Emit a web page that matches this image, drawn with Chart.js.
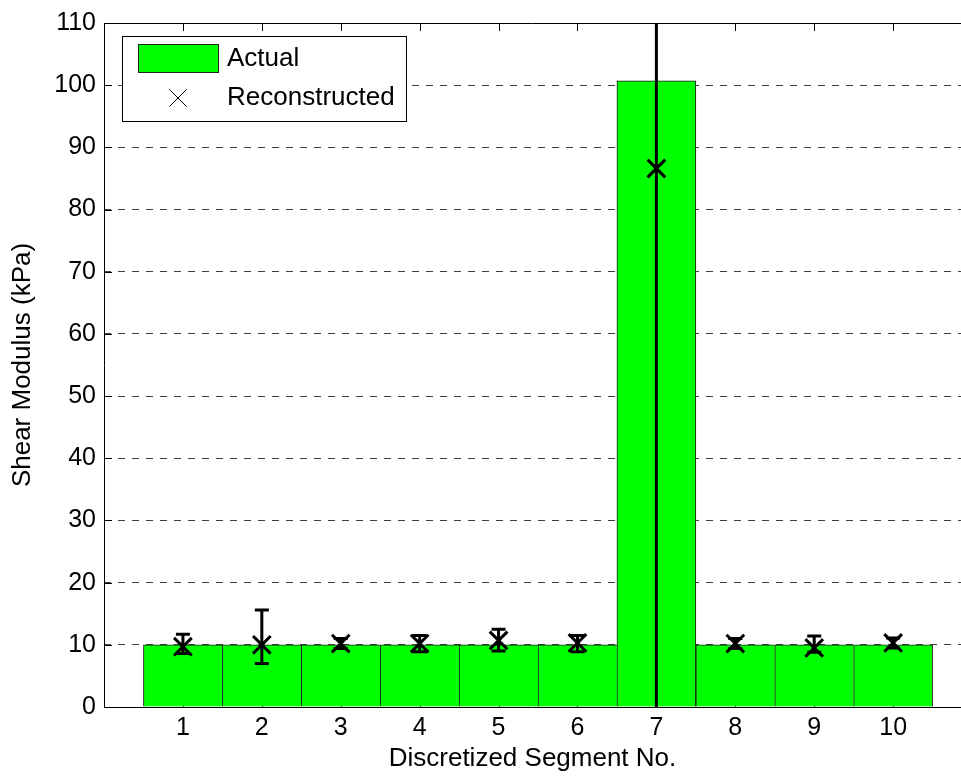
<!DOCTYPE html>
<html>
<head>
<meta charset="utf-8">
<script src="https://cdn.jsdelivr.net/npm/chart.js@4.4.1/dist/chart.umd.min.js"></script>
<style>
    html, body { margin: 0; padding: 0; background: #fff; overflow: hidden; }
</style>
</head>
<body>
<canvas id="shear" width="961" height="776"></canvas>
<script>
let segments = [1, 2, 3, 4, 5, 6, 7, 8, 9, 10];
let actual = [10, 10, 10, 10, 10, 10, 100.7, 10, 10, 10];
let reconstructed = [9.7, 10.0, 10.2, 10.2, 10.7, 10.3, 86.6, 10.2, 9.5, 10.3];
let errLow = [8.6, 7.0, 9.4, 8.9, 9.0, 8.9, -30, 9.4, 8.8, 9.5];
let errHigh = [11.7, 15.6, 11.0, 11.5, 12.5, 11.5, 200, 11.0, 11.4, 11.1];
let yTicks = [0, 10, 20, 30, 40, 50, 60, 70, 80, 90, 100, 110];

const FONT = '"Liberation Sans", Arial, Helvetica, sans-serif';

// axes box + inward ticks, MATLAB style
const frame = {
    id: 'frame',
    beforeDatasetsDraw(chart) {
        let c = chart.ctx, a = chart.chartArea;
        let xs = chart.scales.x, ys = chart.scales.y;
        c.save();
        c.strokeStyle = '#000';
        c.lineWidth = 1;
        c.beginPath();
        yTicks.forEach(v => {
            let y = Math.round(ys.getPixelForValue(v)) + 0.5;
            c.moveTo(a.left, y);
            c.lineTo(a.left + 8, y);
        });
        segments.forEach(v => {
            let x = Math.round(xs.getPixelForValue(v)) + 0.5;
            c.moveTo(x, a.bottom);
            c.lineTo(x, a.bottom - 8);
        });
        c.stroke();
        c.restore();
    },
    afterDraw(chart) {
        let c = chart.ctx, a = chart.chartArea;
        let xs = chart.scales.x;
        c.save();
        c.strokeStyle = '#000';
        c.lineWidth = 1;
        c.beginPath();
        let l = Math.round(a.left) + 0.5, t = Math.round(a.top) + 0.5, b = Math.round(a.bottom) + 0.5;
        c.moveTo(a.right, t);
        c.lineTo(l, t);
        c.lineTo(l, b);
        c.lineTo(a.right, b);
        segments.forEach(v => {
            let x = Math.round(xs.getPixelForValue(v)) + 0.5;
            c.moveTo(x, a.top);
            c.lineTo(x, a.top + 8);
        });
        c.stroke();

        // legend box
        let lx = a.left + 18, ly = a.top + 13;
        c.fillStyle = '#fff';
        c.fillRect(lx, ly, 284, 85);
        c.strokeRect(lx + 0.5, ly + 0.5, 284, 85);
        c.fillStyle = '#00ff00';
        c.fillRect(lx + 16, ly + 8, 80, 28);
        c.strokeStyle = '#222';
        c.strokeRect(lx + 16.5, ly + 8.5, 80, 28);
        c.strokeStyle = '#000';
        c.beginPath();
        let mx = lx + 56, my = ly + 62, h = 8.5;
        c.moveTo(mx - h, my - h); c.lineTo(mx + h, my + h);
        c.moveTo(mx - h, my + h); c.lineTo(mx + h, my - h);
        c.stroke();
        c.fillStyle = '#000';
        c.font = '26px ' + FONT;
        c.textBaseline = 'middle';
        c.textAlign = 'left';
        c.fillText('Actual', lx + 105, ly + 23);
        c.fillText('Reconstructed', lx + 105, ly + 62);
        c.restore();
    }
};

const errorBars = {
    id: 'errorBars',
    afterDatasetsDraw(chart) {
        let c = chart.ctx, a = chart.chartArea;
        let xs = chart.scales.x, ys = chart.scales.y;
        c.save();
        c.beginPath();
        c.rect(a.left, a.top, a.right - a.left, a.bottom - a.top);
        c.clip();
        c.strokeStyle = '#000';
        c.lineWidth = 3;
        c.lineCap = 'butt';
        segments.forEach((s, i) => {
            let x = xs.getPixelForValue(s);
            let y1 = ys.getPixelForValue(errLow[i]);
            let y2 = ys.getPixelForValue(errHigh[i]);
            c.beginPath();
            c.moveTo(x, y1); c.lineTo(x, y2);
            c.moveTo(x - 7, y1); c.lineTo(x + 7, y1);
            c.moveTo(x - 7, y2); c.lineTo(x + 7, y2);
            c.stroke();
        });
        c.restore();
    }
};

let ctx = document.querySelector('#shear');
let shearChart = new Chart(ctx, {
    data: {
        datasets: [
            {
                type: 'scatter',
                label: 'Reconstructed',
                data: segments.map((s, i) => ({ x: s, y: reconstructed[i] })),
                pointStyle: 'crossRot',
                pointRadius: 12.5,
                pointBorderWidth: 3,
                borderColor: '#000',
                backgroundColor: '#000',
                order: 0
            },
            {
                type: 'bar',
                label: 'Actual',
                data: segments.map((s, i) => ({ x: s, y: actual[i] })),
                backgroundColor: '#00ff00',
                borderColor: '#1a1a1a',
                borderWidth: c => ({ top: 1, left: 1, bottom: 0, right: (c.dataIndex === 9 || c.dataIndex === 6) ? 1 : 0 }),
                borderSkipped: false,
                barPercentage: 1,
                categoryPercentage: 1,
                order: 1
            }
        ]
    },
    options: {
        responsive: false,
        animation: false,
        layout: { autoPadding: false, padding: { top: 23, right: 0, left: 0, bottom: 0 } },
        plugins: {
            legend: { display: false },
            tooltip: { enabled: false }
        },
        scales: {
            x: {
                type: 'linear',
                min: 0,
                max: 10.86,
                offset: false,
                afterFit: s => { s.height = 69; },
                grid: { display: false, drawTicks: false },
                border: { display: false },
                ticks: {
                    stepSize: 1,
                    includeBounds: false,
                    autoSkip: false,
                    maxRotation: 0,
                    padding: 6,
                    color: '#000',
                    font: { family: FONT, size: 25 },
                    callback: v => (v >= 1 && v <= 10 && Number.isInteger(v)) ? String(v) : ''
                },
                title: {
                    display: true,
                    text: 'Discretized Segment No.',
                    color: '#000',
                    font: { family: FONT, size: 26 },
                    padding: { top: 0, bottom: 2 }
                }
            },
            y: {
                min: 0,
                max: 110,
                afterFit: s => { s.width = 104; },
                grid: {
                    drawTicks: false,
                    color: c => (c.tick.value === 0 || c.tick.value === 110) ? 'rgba(0,0,0,0)' : '#404040',
                    lineWidth: 1
                },
                border: { display: false, dash: [7, 7] },
                ticks: {
                    stepSize: 10,
                    padding: 8,
                    color: '#000',
                    font: { family: FONT, size: 25 }
                },
                title: {
                    display: true,
                    text: 'Shear Modulus (kPa)',
                    color: '#000',
                    font: { family: FONT, size: 26 },
                    padding: { top: 7, bottom: 0 }
                }
            }
        }
    },
    plugins: [frame, errorBars]
});
</script>
</body>
</html>
